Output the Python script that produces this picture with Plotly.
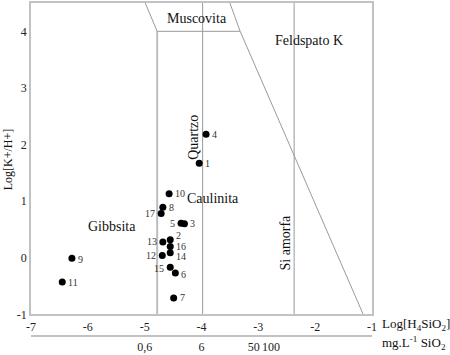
import numpy as np
import plotly.graph_objects as go

# ---- data ----
sample_ids = ["1", "2", "3", "4", "5", "6", "7", "8", "9", "10",
              "11", "12", "13", "14", "15", "16", "17"]
log_h4sio4 = [-4.04, -4.55, -4.30, -3.92, -4.36, -4.46, -4.49, -4.68, -6.28, -4.57,
              -6.45, -4.69, -4.68, -4.55, -4.55, -4.55, -4.71]
log_k_h = [1.67, 0.32, 0.60, 2.18, 0.61, -0.27, -0.71, 0.89, -0.01, 1.13,
           -0.43, 0.04, 0.28, 0.09, -0.17, 0.20, 0.78]

# label placement (side of the dot, vertical nudge in px)
label_side = ["right", "right", "right", "right", "left", "right", "right", "right", "right",
              "right", "right", "left", "left", "right", "left", "right", "left"]
label_nudge = [0, 4, 0, 0, 0, -1, 0, 0, -1, 0, 0, 0, 0, -4, -1, 0, 0]

# stability-field boundaries (x = log[H4SiO4], y = log[K+/H+])
gibbsite_kaolinite_x = [-4.78, -4.78]
gibbsite_kaolinite_y = [-1.0, 4.0]
quartz_x = [-3.98, -3.98]
quartz_y = [-1.0, 4.5]
amorphous_si_x = [-2.37, -2.37]
amorphous_si_y = [-1.0, 4.5]
muscovite_base_x = [-4.78, -3.32]
muscovite_base_y = [4.0, 4.0]
muscovite_left_x = [-4.99, -4.78]
muscovite_left_y = [4.5, 4.0]
feldspar_x = [-3.50, -3.32, -1.155]
feldspar_y = [4.5, 4.0, -1.0]

x_ticks = [-7, -6, -5, -4, -3, -2, -1]
y_ticks = [-1, 0, 1, 2, 3, 4]
sio2_mg_l = [0.6, 6, 50, 100]
sio2_labels = ["0,6", "6", "50", "100"]
SIO2_MOLAR_MG = 60080.0
sio2_log = [float(np.log10(v / SIO2_MOLAR_MG)) for v in sio2_mg_l]

SERIF = "Liberation Serif"
LINE = "#9a9a9a"
FRAME = "#c2c2c2"

fig = go.Figure()

def add_line(xs, ys, color=LINE, width=1):
    fig.add_trace(go.Scatter(x=xs, y=ys, mode="lines",
                             line=dict(color=color, width=width),
                             hoverinfo="skip", showlegend=False))

add_line(gibbsite_kaolinite_x, gibbsite_kaolinite_y, color="#bdbdbd", width=2)
add_line(quartz_x, quartz_y)
add_line(amorphous_si_x, amorphous_si_y)
add_line(muscovite_base_x, muscovite_base_y)
add_line(muscovite_left_x, muscovite_left_y)
add_line(feldspar_x, feldspar_y)

fig.add_trace(go.Scatter(
    x=log_h4sio4, y=log_k_h, mode="markers",
    marker=dict(color="black", size=7),
    showlegend=False, cliponaxis=False))

# invisible trace to bind the secondary (mg/L) axis
fig.add_trace(go.Scatter(x=[sio2_log[0]], y=[None], xaxis="x2", yaxis="y",
                         mode="markers", showlegend=False, hoverinfo="skip"))

ann = []
for sid, xv, yv, side, nud in zip(sample_ids, log_h4sio4, log_k_h, label_side, label_nudge):
    ann.append(dict(text=sid, x=xv, y=yv, xref="x", yref="y", showarrow=False,
                    xanchor="left" if side == "right" else "right", yanchor="middle",
                    xshift=5 if side == "right" else -5, yshift=nud, borderpad=0,
                    font=dict(family=SERIF, size=10, color="#333333")))

def label(text, x, y, angle=0, size=14):
    ann.append(dict(text=text, x=x, y=y, xref="x", yref="y", showarrow=False,
                    textangle=angle, font=dict(family=SERIF, size=size, color="#111111")))

label("Muscovita", -4.08, 4.22)
label("Feldspato K", -2.10, 3.83)
label("Caulinita", -3.80, 1.05)
label("Gibbsita", -5.57, 0.56)
label("Quartzo", -4.13, 2.12, angle=-90)
label("Si amorfa", -2.53, 0.27, angle=-90)

ann.append(dict(text="Log[H<sub>4</sub>SiO<sub>2</sub>]", x=1.0235, y=0.034,
                xref="paper", yref="paper", xanchor="left", yanchor="middle",
                showarrow=False, font=dict(family=SERIF, size=13, color="#111111")))
ann.append(dict(text="mg.L<sup>-1</sup> SiO<sub>2</sub>", x=1.0235, y=-0.02,
                xref="paper", yref="paper", xanchor="left", yanchor="middle",
                showarrow=False, font=dict(family=SERIF, size=13, color="#111111")))
ann.append(dict(text="Log[K+/H+]", x=-0.068, y=0.53, xref="paper", yref="paper",
                xanchor="center", yanchor="middle",
                textangle=-90, showarrow=False,
                font=dict(family=SERIF, size=12, color="#111111")))

fig.update_layout(
    width=450, height=355,
    margin=dict(l=31, r=78, t=1, b=15),
    paper_bgcolor="white", plot_bgcolor="white",
    showlegend=False,
    annotations=ann,
    xaxis=dict(range=[-7, -1], tickvals=x_ticks, ticktext=[str(v) for v in x_ticks],
               showgrid=False, zeroline=False, showline=True, linecolor=FRAME,
               linewidth=1.5, mirror=True, ticks="", anchor="y",
               tickfont=dict(family=SERIF, size=12, color="#222222")),
    xaxis2=dict(range=[-7, -1], overlaying="x", anchor="free", position=0,
                tickvals=sio2_log, ticktext=sio2_labels, side="bottom",
                showgrid=False, zeroline=False, showline=True, linecolor=FRAME,
                linewidth=2, ticks="",
                tickfont=dict(family=SERIF, size=12, color="#222222")),
    yaxis=dict(range=[-1, 4.5], domain=[0.065, 1], tickvals=y_ticks,
               ticktext=[str(v) for v in y_ticks],
               showgrid=False, zeroline=False, showline=True, linecolor=FRAME,
               linewidth=1.5, mirror=True, ticks="",
               tickfont=dict(family=SERIF, size=12, color="#222222")),
)

fig.write_html("out.html", config={"displayModeBar": False},
               post_script="document.body.style.margin='0';document.body.style.overflow='hidden';")
